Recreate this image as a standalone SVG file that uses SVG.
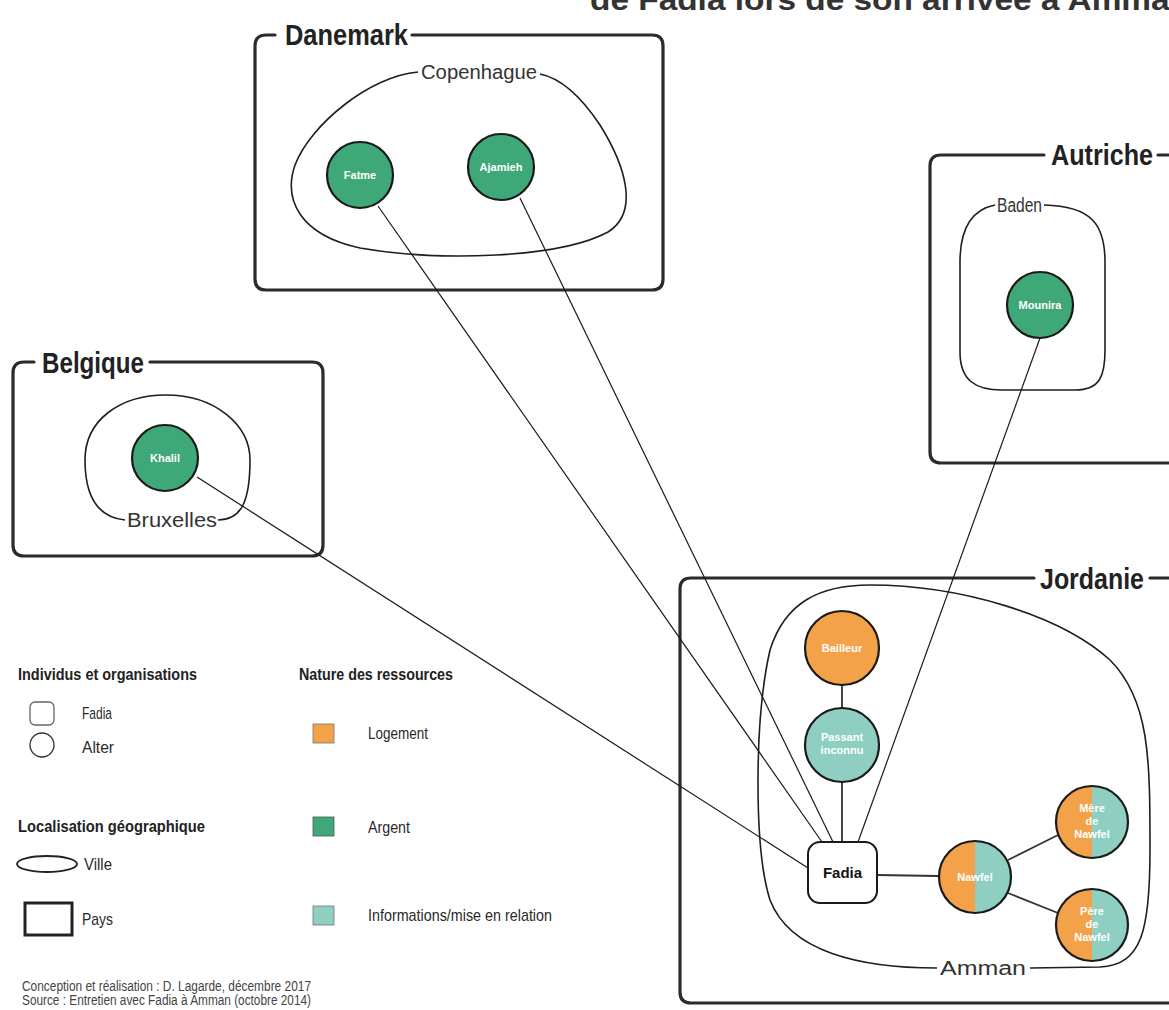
<svg xmlns="http://www.w3.org/2000/svg" width="1169" height="1010" viewBox="0 0 1169 1010">
<defs>
<style>
.box{fill:none;stroke:#2b2b2b;stroke-width:3.2;stroke-linecap:round;stroke-linejoin:round}
.city{fill:none;stroke:#1e1e1e;stroke-width:1.6}
.title{font-family:"Liberation Sans",Arial,sans-serif;font-weight:bold;font-size:29px;fill:#222}
.citylbl{font-family:"Liberation Sans",Arial,sans-serif;font-size:20px;fill:#333}
.node{stroke:#1a1a1a;stroke-width:2.2}
.green{fill:#3fa878}
.orange{fill:#f4a249}
.teal{fill:#8ecfc1}
.nlbl{font-family:"Liberation Sans",Arial,sans-serif;font-weight:bold;font-size:11px;fill:#ffffff;text-anchor:middle}
.edge{stroke:#1a1a1a;stroke-width:1.2;fill:none}
.edge2{stroke:#333;stroke-width:1.8;fill:none}
.lh{font-family:"Liberation Sans",Arial,sans-serif;font-weight:bold;font-size:17px;fill:#222}
.lt{font-family:"Liberation Sans",Arial,sans-serif;font-size:17px;fill:#2a2a2a}
.ft{font-family:"Liberation Sans",Arial,sans-serif;font-size:14px;fill:#444}
</style>
<clipPath id="cl"><circle cx="0" cy="0" r="36"/></clipPath>
</defs>
<rect width="1169" height="1010" fill="#ffffff"/>

<text x="590" y="10" font-family="Liberation Sans, Arial, sans-serif" font-weight="bold" font-size="30" fill="#333" textLength="600" lengthAdjust="spacingAndGlyphs">de Fadia lors de son arrivée à Amman</text>

<!-- Countries -->
<g id="danemark">
<path class="box" d="M 275 35 H 266 Q 255 35 255 46 V 279 Q 255 290 266 290 H 652 Q 663 290 663 279 V 46 Q 663 35 652 35 H 412"/>
<text class="title" x="285" y="45" textLength="123" lengthAdjust="spacingAndGlyphs">Danemark</text>
</g>
<g id="autriche">
<path class="box" d="M 1044 155 H 941 Q 930 155 930 166 V 452 Q 930 463 941 463 H 1172 M 1158 155 H 1172"/>
<text class="title" x="1051" y="165" textLength="102" lengthAdjust="spacingAndGlyphs">Autriche</text>
</g>
<g id="belgique">
<path class="box" d="M 34 362 H 24 Q 13 362 13 373 V 545 Q 13 556 24 556 H 312 Q 323 556 323 545 V 373 Q 323 362 312 362 H 150"/>
<text class="title" x="42" y="373" textLength="102" lengthAdjust="spacingAndGlyphs">Belgique</text>
</g>
<g id="jordanie">
<path class="box" d="M 1034 578 H 691 Q 680 578 680 589 V 992 Q 680 1003 691 1003 H 1172 M 1150 578 H 1172"/>
<text class="title" x="1040" y="589" textLength="104" lengthAdjust="spacingAndGlyphs">Jordanie</text>
</g>

<!-- Cities -->
<g id="copenhague">
<path class="city" d="M 418 72 C 370 76 310 125 295 165 C 283 200 300 235 360 248 C 440 262 560 258 608 232 C 640 212 625 165 600 125 C 580 95 560 78 540 74"/>
<text class="citylbl" x="421" y="79" textLength="116" lengthAdjust="spacingAndGlyphs">Copenhague</text>
</g>
<g id="baden">
<path class="city" d="M 995 205 C 970 210 960 230 960 262 V 352 C 960 380 975 390 1002 390 H 1075 C 1100 390 1105 376 1105 350 V 262 C 1105 225 1092 206 1044 205"/>
<text class="citylbl" x="997" y="212" textLength="45" lengthAdjust="spacingAndGlyphs">Baden</text>
</g>
<g id="bruxelles">
<path class="city" d="M 125 520 C 95 517 85 492 85 460 C 85 420 120 395 166 395 C 215 395 250 425 250 460 C 250 500 242 520 218 520"/>
<text class="citylbl" x="127" y="527" textLength="90" lengthAdjust="spacingAndGlyphs">Bruxelles</text>
</g>
<g id="amman">
<path class="city" d="M 937 968 C 860 968 790 952 770 900 C 754 850 754 720 770 650 C 785 602 820 585 870 585 C 960 585 1060 615 1110 660 C 1150 700 1150 760 1150 850 C 1150 930 1142 965 1100 967 L 1030 968"/>
<text class="citylbl" x="940" y="975" textLength="86" lengthAdjust="spacingAndGlyphs">Amman</text>
</g>

<!-- Connectors -->
<g id="connectors">
<line class="edge" x1="197" y1="477" x2="808" y2="868"/>
<line class="edge" x1="378" y1="206" x2="822" y2="842"/>
<line class="edge" x1="520" y1="198" x2="833" y2="842"/>
<line class="edge" x1="1040" y1="338" x2="858" y2="842"/>
<line class="edge2" x1="842" y1="685" x2="842" y2="708"/>
<line class="edge2" x1="842" y1="782" x2="842" y2="842"/>
<line class="edge2" x1="877" y1="875" x2="938" y2="876"/>
<line class="edge2" x1="1008" y1="860" x2="1058" y2="835"/>
<line class="edge2" x1="1008" y1="893" x2="1058" y2="913"/>
</g>

<!-- Nodes -->
<g id="fatme"><circle class="node green" cx="360" cy="175" r="33"/><text class="nlbl" x="360" y="179">Fatme</text></g>
<g id="ajamieh"><circle class="node green" cx="501" cy="167" r="33"/><text class="nlbl" x="501" y="171">Ajamieh</text></g>
<g id="mounira"><circle class="node green" cx="1040" cy="305" r="33"/><text class="nlbl" x="1040" y="309">Mounira</text></g>
<g id="khalil"><circle class="node green" cx="165" cy="458" r="33"/><text class="nlbl" x="165" y="462">Khalil</text></g>
<g id="bailleur"><circle class="node orange" cx="842" cy="648" r="37"/><text class="nlbl" x="842" y="652">Bailleur</text></g>
<g id="passant"><circle class="node teal" cx="842" cy="745" r="37"/><text class="nlbl" x="842" y="741">Passant</text><text class="nlbl" x="842" y="754">inconnu</text></g>
<g id="fadia"><rect x="808" y="842" width="69" height="61" rx="12" fill="#fff" stroke="#1a1a1a" stroke-width="2"/><text x="842.5" y="878" text-anchor="middle" font-family="Liberation Sans, Arial, sans-serif" font-weight="bold" font-size="15" fill="#111">Fadia</text></g>
<g id="nawfel" transform="translate(975,877)">
<g clip-path="url(#cl)"><rect class="orange" x="-40" y="-40" width="40" height="80"/><rect class="teal" x="0" y="-40" width="40" height="80"/></g>
<circle cx="0" cy="0" r="36" fill="none" stroke="#1a1a1a" stroke-width="2.2"/>
<text class="nlbl" x="0" y="4">Nawfel</text></g>
<g id="mere" transform="translate(1092,822)">
<g clip-path="url(#cl)"><rect class="orange" x="-40" y="-40" width="40" height="80"/><rect class="teal" x="0" y="-40" width="40" height="80"/></g>
<circle cx="0" cy="0" r="36" fill="none" stroke="#1a1a1a" stroke-width="2.2"/>
<text class="nlbl" x="0" y="-10">Mère</text><text class="nlbl" x="0" y="3">de</text><text class="nlbl" x="0" y="16">Nawfel</text></g>
<g id="pere" transform="translate(1092,925)">
<g clip-path="url(#cl)"><rect class="orange" x="-40" y="-40" width="40" height="80"/><rect class="teal" x="0" y="-40" width="40" height="80"/></g>
<circle cx="0" cy="0" r="36" fill="none" stroke="#1a1a1a" stroke-width="2.2"/>
<text class="nlbl" x="0" y="-10">Père</text><text class="nlbl" x="0" y="3">de</text><text class="nlbl" x="0" y="16">Nawfel</text></g>

<!-- Legend -->
<g id="legend">
<text class="lh" x="18" y="680" textLength="179" lengthAdjust="spacingAndGlyphs">Individus et organisations</text>
<rect x="30" y="702" width="24" height="23" rx="5" fill="#fff" stroke="#666" stroke-width="1.3"/>
<text class="lt" x="82" y="719" textLength="30" lengthAdjust="spacingAndGlyphs">Fadia</text>
<circle cx="42" cy="745" r="12" fill="#fff" stroke="#333" stroke-width="1.3"/>
<text class="lt" x="82" y="753" textLength="32" lengthAdjust="spacingAndGlyphs">Alter</text>
<text class="lh" x="18" y="832" textLength="187" lengthAdjust="spacingAndGlyphs">Localisation géographique</text>
<ellipse cx="47" cy="864" rx="30" ry="8" fill="#fff" stroke="#222" stroke-width="1.8"/>
<text class="lt" x="84" y="870" textLength="28" lengthAdjust="spacingAndGlyphs">Ville</text>
<rect x="25" y="903" width="47" height="32" fill="#fff" stroke="#222" stroke-width="3"/>
<text class="lt" x="82" y="925" textLength="31" lengthAdjust="spacingAndGlyphs">Pays</text>
<text class="lh" x="299" y="680" textLength="154" lengthAdjust="spacingAndGlyphs">Nature des ressources</text>
<rect x="313" y="724" width="21" height="19" class="orange" stroke="#777" stroke-width="0.8"/>
<text class="lt" x="368" y="739" textLength="60" lengthAdjust="spacingAndGlyphs">Logement</text>
<rect x="313" y="817" width="21" height="19" class="green" stroke="#555" stroke-width="0.8"/>
<text class="lt" x="368" y="833" textLength="42" lengthAdjust="spacingAndGlyphs">Argent</text>
<rect x="313" y="906" width="21" height="19" class="teal" stroke="#777" stroke-width="0.8"/>
<text class="lt" x="368" y="921" textLength="184" lengthAdjust="spacingAndGlyphs">Informations/mise en relation</text>
<text class="ft" x="22" y="991" textLength="289" lengthAdjust="spacingAndGlyphs">Conception et réalisation : D. Lagarde, décembre 2017</text>
<text class="ft" x="22" y="1005" textLength="289" lengthAdjust="spacingAndGlyphs">Source : Entretien avec Fadia à Amman (octobre 2014)</text>
</g>
</svg>
